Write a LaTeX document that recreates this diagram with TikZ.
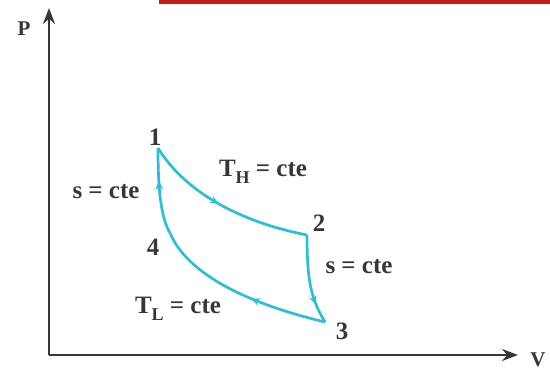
\documentclass[tikz,border=0pt]{standalone}
\usepackage{fontspec}
\setmainfont{Liberation Serif}
\usetikzlibrary{arrows.meta,decorations.markings}
\definecolor{cyc}{RGB}{45,190,215}
\definecolor{ink}{RGB}{55,55,55}
\definecolor{barred}{RGB}{200,25,25}
\tikzset{
  axis/.style={draw=ink,line width=2.3pt,-{Stealth[length=16pt,width=12pt]}},
  proc/.style={draw=cyc,line width=2.7pt,line join=miter},
  mid/.style={postaction={decorate},decoration={markings,mark=at position #1 with {\arrow{Stealth[length=9pt,width=8pt,inset=3.5pt]}}}},
  lbl/.style={text=ink,font=\fontsize{25}{28}\selectfont\bfseries,inner sep=0pt},
}
\newcommand{\Tsub}[1]{T\raisebox{-0.3em}{\fontsize{18}{19}\selectfont #1}}
\begin{document}
\begin{tikzpicture}[x=1pt,y=-1pt]
\useasboundingbox (0,0) rectangle (550,372);
\fill[barred] (159,0) rectangle (550,3.5);
% axes
\coordinate (O) at (49,355);
\coordinate (Ptip) at (49,8);
\coordinate (Vtip) at (518,355);
\draw[axis] (O) -- (Ptip);
\draw[axis] (O) -- (Vtip);
\node[lbl,font=\fontsize{21}{23}\selectfont\bfseries] (P) at (24,29) {P};
\node[lbl,font=\fontsize{21}{23}\selectfont\bfseries] (V) at (538,360) {V};
% states
\coordinate (s1) at (158,148);
\coordinate (s2) at (307,235);
\coordinate (s3) at (325,322);
\coordinate (s4) at (170,233);
% processes
\draw[proc,mid=0.47] (s1) .. controls (185,192) and (240,222) .. (s2);
\draw[proc,mid=0.78] (s2) .. controls (307,285) and (312,300) .. (s3);
\draw[proc,mid=0.42] (s3) .. controls (262,307) and (190,280) .. (s4);
\draw[proc,mid=0.62] (s4) .. controls (161,218) and (158,190) .. (s1);
% labels
\node[lbl] (n1) at (155,137) {1};
\node[lbl] (n2) at (319,223) {2};
\node[lbl] (n3) at (342,331) {3};
\node[lbl] (n4) at (153,247) {4};
\node[lbl] (l41) at (106,192) {s = cte};
\node[lbl] (l12) at (263,172) {\Tsub{H} = cte};
\node[lbl] (l23) at (359,267) {s = cte};
\node[lbl] (l34) at (178,309) {\Tsub{L} = cte};
\end{tikzpicture}
\end{document}
